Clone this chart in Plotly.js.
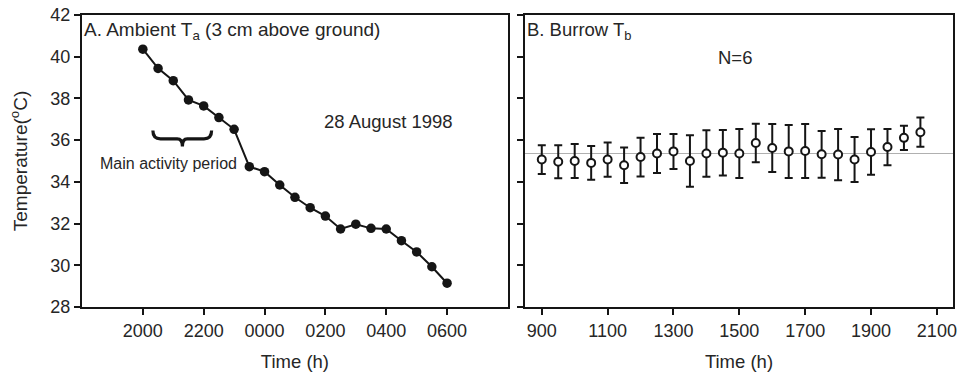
<!DOCTYPE html>
<html>
<head>
<meta charset="utf-8">
<script src="https://cdn.plot.ly/plotly-3.0.1.min.js"></script>
<style>
  html, body { margin: 0; padding: 0; background: #fff; }
  #chart { width: 970px; height: 378px; }
</style>
</head>
<body>
<div id="chart"></div>
<script>
// ---- Panel A: ambient temperature (3 cm above ground), 28 August 1998 ----
// time in hours since midnight of 28 Aug (24 = 0000, 30 = 0600)
const timeA = [20, 20.5, 21, 21.5, 22, 22.5, 23, 23.5, 24, 24.5, 25,
               25.5, 26, 26.5, 27, 27.5, 28, 28.5, 29, 29.5, 30];
const ambientTa = [40.36, 39.44, 38.85, 37.93, 37.64, 37.08, 36.52, 34.73, 34.49, 33.85, 33.26,
                   32.76, 32.36, 31.74, 31.97, 31.77, 31.74, 31.18, 30.64, 29.93, 29.14];
const tickValsA = [20, 22, 24, 26, 28, 30];
const tickTextA = ["2000", "2200", "0000", "0200", "0400", "0600"];

// ---- Panel B: burrow body temperature, mean ± error, N=6 ----
const timeB = [900, 950, 1000, 1050, 1100, 1150, 1200, 1250, 1300, 1350, 1400, 1450,
               1500, 1550, 1600, 1650, 1700, 1750, 1800, 1850, 1900, 1950, 2000, 2050];
const burrowTb = [35.07, 34.96, 35.00, 34.91, 35.07, 34.80, 35.19, 35.36, 35.46, 35.00, 35.36, 35.40,
                  35.36, 35.86, 35.62, 35.46, 35.48, 35.32, 35.31, 35.07, 35.43, 35.67, 36.11, 36.38];
const burrowErr = [0.69, 0.79, 0.82, 0.81, 0.82, 0.85, 0.93, 0.93, 0.84, 1.24, 1.11, 1.09,
                   1.17, 0.92, 1.15, 1.27, 1.29, 1.12, 1.23, 1.08, 1.09, 0.87, 0.58, 0.70];
const tickValsB = [900, 1100, 1300, 1500, 1700, 1900, 2100];
const referenceTb = 35.36;

const ink = '#151515';
const txt = '#262626';
const fontFam = '"Liberation Sans", Arial, Helvetica, sans-serif';

const traces = [
  {
    x: timeA, y: ambientTa, xaxis: 'x', yaxis: 'y',
    type: 'scatter', mode: 'lines+markers',
    line: { color: ink, width: 2 },
    marker: { color: ink, size: 9.5 },
    showlegend: false, hoverinfo: 'x+y'
  },
  {
    x: timeB, y: burrowTb, xaxis: 'x2', yaxis: 'y2',
    type: 'scatter', mode: 'markers',
    marker: { color: '#ffffff', size: 8, line: { color: ink, width: 2 } },
    error_y: { type: 'data', array: burrowErr, visible: true, color: ink, thickness: 2, width: 4 },
    showlegend: false, hoverinfo: 'x+y'
  }
];

const axisCommon = {
  showgrid: false, zeroline: false,
  showline: true, linecolor: ink, linewidth: 2, mirror: true,
  ticks: 'outside', ticklen: 6, tickwidth: 2, tickcolor: ink,
  tickfont: { family: fontFam, size: 18, color: txt }
};

// brace (decoration) expressed in panel A data units
const brace = 'M 20.33,36.46 Q 20.33,36.06 20.58,36.06 L 21.13,36.06 Q 21.30,36.06 21.30,35.70 ' +
              'Q 21.30,36.06 21.46,36.06 L 22.01,36.06 Q 22.26,36.06 22.26,36.46';

const layout = {
  width: 970, height: 378,
  margin: { l: 82, r: 17, t: 15, b: 71 },
  paper_bgcolor: '#ffffff', plot_bgcolor: '#ffffff',
  font: { family: fontFam, color: txt, size: 18 },
  showlegend: false,
  xaxis: Object.assign({}, axisCommon, {
    domain: [0, 0.489], range: [18, 32], anchor: 'y',
    tickmode: 'array', tickvals: tickValsA, ticktext: tickTextA,
    title: { text: 'Time (h)', font: { family: fontFam, size: 18.5, color: txt }, standoff: 15 }
  }),
  yaxis: Object.assign({}, axisCommon, {
    domain: [0, 1], range: [28, 42], anchor: 'x',
    tickmode: 'linear', tick0: 28, dtick: 2,
    title: { text: 'Temperature(<sup>o</sup>C)', font: { family: fontFam, size: 19, color: txt }, standoff: 18 }
  }),
  xaxis2: Object.assign({}, axisCommon, {
    domain: [0.5086, 1], range: [849, 2149], anchor: 'y2',
    tickmode: 'array', tickvals: tickValsB, ticktext: tickValsB.map(String),
    title: { text: 'Time (h)', font: { family: fontFam, size: 18.5, color: txt }, standoff: 15 }
  }),
  yaxis2: Object.assign({}, axisCommon, {
    domain: [0, 1], range: [28, 42], anchor: 'x2',
    tickmode: 'linear', tick0: 28, dtick: 2, showticklabels: false
  }),
  shapes: [
    { type: 'line', xref: 'x2 domain', yref: 'y2', x0: 0, x1: 1, y0: referenceTb, y1: referenceTb,
      line: { color: '#b0b0b0', width: 1.2 }, layer: 'below' },
    { type: 'path', xref: 'x', yref: 'y', path: brace, line: { color: ink, width: 3.2 } }
  ],
  annotations: [
    { xref: 'x domain', yref: 'y domain', x: 0, y: 1, xanchor: 'left', yanchor: 'top',
      xshift: 0, yshift: -2, showarrow: false,
      text: 'A. Ambient T<sub>a</sub> (3 cm above ground)',
      font: { family: fontFam, size: 19, color: txt } },
    { xref: 'x', yref: 'y', x: 28.08, y: 36.88, showarrow: false,
      text: '28 August 1998', font: { family: fontFam, size: 18.5, color: txt } },
    { xref: 'x', yref: 'y', x: 20.85, y: 34.9, showarrow: false,
      text: 'Main activity period', font: { family: fontFam, size: 16, color: txt } },
    { xref: 'x2 domain', yref: 'y2 domain', x: 0, y: 1, xanchor: 'left', yanchor: 'top',
      xshift: 0, yshift: -2, showarrow: false,
      text: 'B. Burrow T<sub>b</sub>',
      font: { family: fontFam, size: 18.5, color: txt } },
    { xref: 'x2', yref: 'y2', x: 1487, y: 39.95, showarrow: false,
      text: 'N=6', font: { family: fontFam, size: 18.5, color: txt } }
  ]
};

Plotly.newPlot('chart', traces, layout, { displayModeBar: false, staticPlot: true });
</script>
</body>
</html>
